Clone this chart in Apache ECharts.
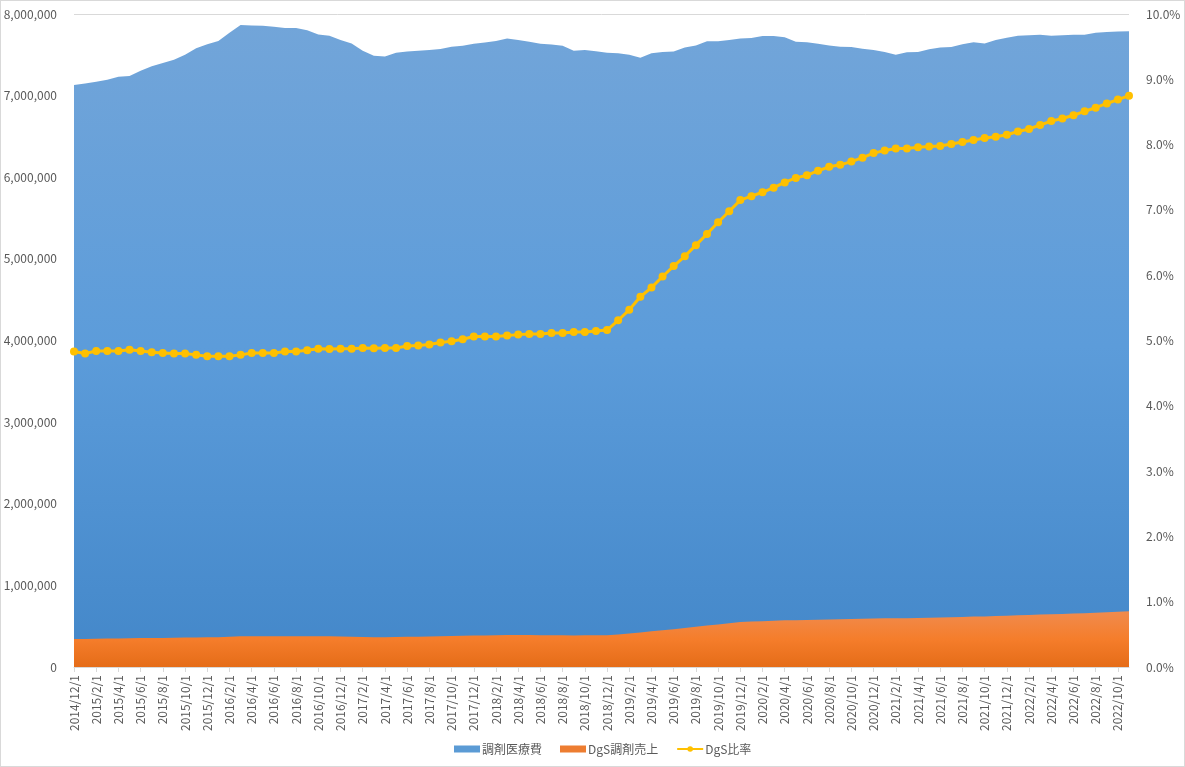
<!DOCTYPE html>
<html>
<head>
<meta charset="utf-8">
<script src="https://cdn.jsdelivr.net/npm/echarts@6/dist/echarts.min.js"></script>
<style>
html,body{margin:0;padding:0;background:#fff;}
#wrap{position:relative;width:1185px;height:767px;}
#chart{position:absolute;left:0;top:0;width:1185px;height:767px;}
#frame{position:absolute;left:0;top:0;width:1185px;height:767px;box-sizing:border-box;border:1px solid #d9d9d9;pointer-events:none;}
</style>
</head>
<body>
<div id="wrap"><div id="chart"></div><div id="frame"></div></div>
<script>
const categories = [
  "2014/12/1",
  "2015/1/1","2015/2/1","2015/3/1","2015/4/1","2015/5/1","2015/6/1","2015/7/1","2015/8/1","2015/9/1","2015/10/1","2015/11/1","2015/12/1",
  "2016/1/1","2016/2/1","2016/3/1","2016/4/1","2016/5/1","2016/6/1","2016/7/1","2016/8/1","2016/9/1","2016/10/1","2016/11/1","2016/12/1",
  "2017/1/1","2017/2/1","2017/3/1","2017/4/1","2017/5/1","2017/6/1","2017/7/1","2017/8/1","2017/9/1","2017/10/1","2017/11/1","2017/12/1",
  "2018/1/1","2018/2/1","2018/3/1","2018/4/1","2018/5/1","2018/6/1","2018/7/1","2018/8/1","2018/9/1","2018/10/1","2018/11/1","2018/12/1",
  "2019/1/1","2019/2/1","2019/3/1","2019/4/1","2019/5/1","2019/6/1","2019/7/1","2019/8/1","2019/9/1","2019/10/1","2019/11/1","2019/12/1",
  "2020/1/1","2020/2/1","2020/3/1","2020/4/1","2020/5/1","2020/6/1","2020/7/1","2020/8/1","2020/9/1","2020/10/1","2020/11/1","2020/12/1",
  "2021/1/1","2021/2/1","2021/3/1","2021/4/1","2021/5/1","2021/6/1","2021/7/1","2021/8/1","2021/9/1","2021/10/1","2021/11/1","2021/12/1",
  "2022/1/1","2022/2/1","2022/3/1","2022/4/1","2022/5/1","2022/6/1","2022/7/1","2022/8/1","2022/9/1","2022/10/1","2022/11/1"
];

// 調剤医療費
const dispensingCost = [
  7130000,7150000,7170000,7195000,7230000,7240000,7305000,7360000,7400000,7440000,7500000,7580000,
  7630000,7670000,7770000,7865000,7860000,7855000,7845000,7830000,7830000,7800000,7750000,7735000,
  7680000,7640000,7550000,7490000,7480000,7525000,7540000,7550000,7560000,7570000,7600000,7610000,
  7635000,7650000,7670000,7700000,7680000,7660000,7635000,7625000,7610000,7550000,7560000,7545000,
  7525000,7520000,7500000,7465000,7520000,7535000,7540000,7590000,7615000,7665000,7665000,7680000,
  7700000,7705000,7730000,7730000,7715000,7660000,7655000,7635000,7615000,7600000,7595000,7575000,
  7560000,7535000,7500000,7530000,7535000,7567000,7590000,7595000,7630000,7655000,7640000,7680000,
  7710000,7735000,7740000,7745000,7735000,7740000,7745000,7745000,7770000,7780000,7785000,7790000
];

// DgS調剤売上
const dgsSales = [
  344000,343000,347000,348000,350000,352000,354000,355000,356000,357000,360000,362000,
  363000,365000,370000,376000,378000,378000,377000,378000,378000,378000,378000,377000,
  374000,372000,369000,366000,365000,368000,371000,372000,373000,376000,379000,382000,
  386000,387000,388000,391000,391000,391000,389000,390000,389000,387000,388000,388000,
  388000,399000,410000,423000,437000,451000,463000,477000,492000,508000,522000,536000,
  551000,556000,562000,567000,572000,574000,576000,580000,583000,584000,588000,591000,
  595000,596000,596000,598000,600000,603000,606000,608000,613000,618000,619000,624000,
  628000,634000,638000,643000,647000,650000,654000,659000,666000,671000,677000,682000
];

// DgS比率 (%)
const dgsRatio = [
  4.83,4.80,4.84,4.84,4.84,4.86,4.84,4.82,4.81,4.80,4.80,4.78,
  4.76,4.76,4.76,4.78,4.81,4.81,4.81,4.83,4.83,4.85,4.875,4.87,
  4.875,4.875,4.885,4.88,4.885,4.885,4.915,4.925,4.94,4.97,4.99,5.02,
  5.06,5.06,5.06,5.075,5.09,5.10,5.10,5.115,5.115,5.13,5.13,5.145,
  5.16,5.31,5.47,5.67,5.81,5.98,6.14,6.29,6.46,6.63,6.81,6.98,
  7.15,7.21,7.27,7.34,7.42,7.49,7.53,7.60,7.66,7.69,7.74,7.80,
  7.87,7.91,7.94,7.94,7.96,7.97,7.98,8.01,8.04,8.07,8.10,8.12,
  8.15,8.20,8.24,8.30,8.36,8.40,8.45,8.51,8.565,8.63,8.69,8.75
];

const seriesNames = ["調剤医療費", "DgS調剤売上", "DgS比率"];

const FONT = "'Noto Sans CJK JP', 'Noto Sans', sans-serif";
const TXT = "#595959";
const GRID = "#D9D9D9";

const chart = echarts.init(document.getElementById('chart'), null, {renderer: 'canvas'});
chart.setOption({
  animation: false,
  textStyle: {fontFamily: FONT},
  grid: {left: 74, right: 56, top: 14, bottom: 100, containLabel: false},
  legend: {
    left: 449, top: 738,
    itemWidth: 26, itemHeight: 7, itemGap: 18,
    textStyle: {color: TXT, fontSize: 12, fontFamily: FONT, padding: [0,0,0,-3]},
    data: [
      {name: seriesNames[0], icon: 'rect'},
      {name: seriesNames[1], icon: 'rect'},
      {name: seriesNames[2]}
    ]
  },
  xAxis: {
    type: 'category',
    data: categories,
    boundaryGap: false,
    axisLine: {lineStyle: {color: GRID, width: 1}},
    axisTick: {show: true, interval: 1, length: 5, lineStyle: {color: GRID}},
    axisLabel: {rotate: 90, interval: 1, color: TXT, fontSize: 12, margin: 8, fontFamily: FONT},
    splitLine: {show: false}
  },
  yAxis: [
    {
      type: 'value', min: 0, max: 8000000, interval: 1000000,
      axisLine: {show: false}, axisTick: {show: false},
      axisLabel: {color: TXT, fontSize: 12, margin: 17, fontFamily: FONT,
        formatter: v => v.toLocaleString('en-US')},
      splitLine: {show: true, lineStyle: {color: GRID, width: 1}}
    },
    {
      type: 'value', min: 0, max: 10, interval: 1,
      axisLine: {show: false}, axisTick: {show: false},
      axisLabel: {color: TXT, fontSize: 12, margin: 17, fontFamily: FONT,
        formatter: v => v.toFixed(1) + '%'},
      splitLine: {show: false}
    }
  ],
  series: [
    {
      name: seriesNames[0], type: 'line', data: dispensingCost,
      symbol: 'none', lineStyle: {width: 0}, itemStyle: {color: '#5B9BD5'},
      areaStyle: {opacity: 1, color: new echarts.graphic.LinearGradient(0,0,0,1,[
        {offset: 0, color: '#72A5D9'},
        {offset: 0.5, color: '#5C9CDA'},
        {offset: 1, color: '#4387C9'}
      ])},
      z: 1
    },
    {
      name: seriesNames[1], type: 'line', data: dgsSales,
      symbol: 'none', lineStyle: {width: 0}, itemStyle: {color: '#ED7D31'},
      areaStyle: {opacity: 1, color: new echarts.graphic.LinearGradient(0,0,0,1,[
        {offset: 0, color: '#F08B4E'},
        {offset: 0.5, color: '#F57D2B'},
        {offset: 1, color: '#E56C18'}
      ])},
      z: 2
    },
    {
      name: seriesNames[2], type: 'line', yAxisIndex: 1, data: dgsRatio,
      symbol: 'circle', symbolSize: 8, showAllSymbol: true,
      lineStyle: {width: 3, color: '#FFC000'},
      itemStyle: {color: '#FFC000', borderColor: '#FFC000', borderWidth: 0},
      z: 3
    }
  ]
});
</script>
</body>
</html>
